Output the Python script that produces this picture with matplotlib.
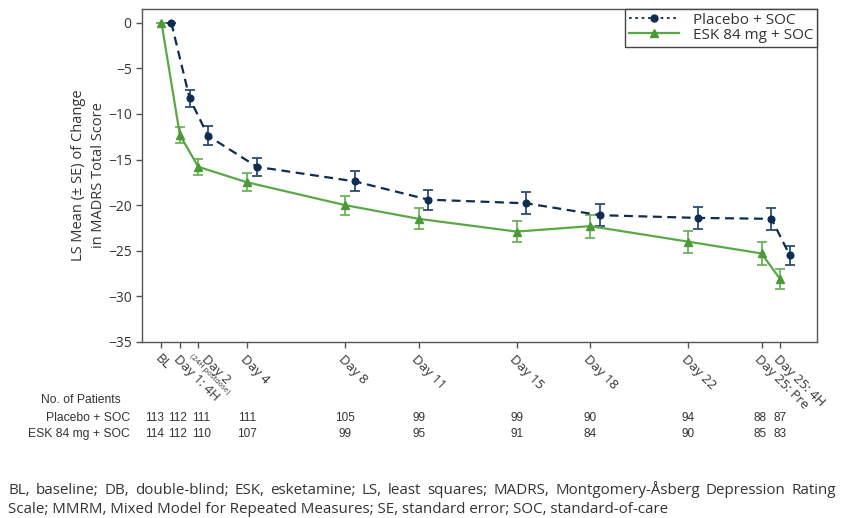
import matplotlib
matplotlib.use("Agg")
import matplotlib.pyplot as plt
import matplotlib.transforms as mtransforms
from matplotlib.lines import Line2D
import numpy as np

# ---------------- data ----------------
tick_labels = ["BL", "Day 1: 4H", "Day 2", "Day 4", "Day 8", "Day 11", "Day 15",
               "Day 18", "Day 22", "Day 25: Pre", "Day 25: 4H"]
study_day = [0.5, 1.25, 2, 4, 8, 11, 15, 18, 22, 25, 25.75]

placebo_mean = [0.0, -8.3, -12.4, -15.8, -17.4, -19.4, -19.8, -21.1, -21.4, -21.5, -25.5]
placebo_se = [0.0, 0.9, 1.05, 1.0, 1.1, 1.1, 1.2, 1.2, 1.2, 1.2, 1.05]
esk_mean = [0.0, -12.3, -15.8, -17.5, -20.0, -21.5, -22.9, -22.3, -24.0, -25.3, -28.1]
esk_se = [0.0, 0.9, 0.9, 1.0, 1.05, 1.15, 1.15, 1.25, 1.2, 1.25, 1.1]

placebo_n = [113, 112, 111, 111, 105, 99, 99, 90, 94, 88, 87]
esk_n = [114, 112, 110, 107, 99, 95, 91, 84, 90, 85, 83]

series_names = ["Placebo + SOC", "ESK 84 mg + SOC"]
footnote1 = ("BL, baseline; DB, double-blind; ESK, esketamine; LS, least squares; MADRS, "
             "Montgomery-\u00c5sberg Depression Rating")
footnote2 = ("Scale; MMRM, Mixed Model for Repeated Measures; SE, standard error; "
             "SOC, standard-of-care")

# ---------------- style ----------------
FONT = ["Open Sans", "DejaVu Sans"]
NUMFONT = ["Liberation Sans", "DejaVu Sans"]
plt.rcParams["font.family"] = FONT
navy = "#0e2d50"
navy_err = "#2c4d74"
green = "#5aa845"
green_mk = "#4b9a38"
green_err = "#6db35a"
spine_c = "#555555"
txt_c = "#333333"

fig = plt.figure(figsize=(8.46, 5.18), dpi=100)
ax = fig.add_axes([0.168, 0.3398, 0.798, 0.6428])

placebo_offset = 0.4
xp = np.array(study_day) + placebo_offset
xe = np.array(study_day)

ax.errorbar(xp, placebo_mean, yerr=placebo_se, fmt="none", ecolor=navy_err,
            elinewidth=1.3, capsize=3.6, capthick=1.3, zorder=2)
ax.plot(xp, placebo_mean, color=navy, linestyle=(0, (4, 2.5)), linewidth=1.6,
        marker="o", markersize=4.8, markerfacecolor=navy, markeredgecolor=navy, zorder=3)

ax.errorbar(xe, esk_mean, yerr=esk_se, fmt="none", ecolor=green_err,
            elinewidth=1.3, capsize=3.6, capthick=1.3, zorder=2)
ax.plot(xe, esk_mean, color=green, linestyle="-", linewidth=1.6,
        marker="^", markersize=5.5, markerfacecolor=green_mk, markeredgecolor=green_mk, zorder=3)

ax.set_xlim(-0.29, 27.27)
ax.set_ylim(-35, 1.5)
yt = np.arange(0, -36, -5)
ax.set_yticks(yt)
ax.set_yticklabels([f"\u2212{abs(v)}" if v < 0 else f"{v}" for v in yt],
                   fontsize=10, color=txt_c)

shown_labels = [("" if lab == "Day 2" else lab) for lab in tick_labels]
ax.set_xticks(study_day)
ax.set_xticklabels(shown_labels, rotation=-45, ha="left", va="top",
                   rotation_mode="anchor", fontsize=9.5, color=txt_c)
shift = mtransforms.ScaledTranslation(-4 / 72, 0, fig.dpi_scale_trans)
for lab in ax.get_xticklabels():
    lab.set_transform(lab.get_transform() + shift)

# Day 2 label with small annotation
i2 = tick_labels.index("Day 2")
bt = mtransforms.blended_transform_factory(ax.transData, ax.transAxes)
ax.text(study_day[i2], 0, "Day 2", rotation=-45, ha="left", va="top", rotation_mode="anchor",
        fontsize=9.5, color=txt_c, clip_on=False,
        transform=bt + mtransforms.ScaledTranslation(7 / 72, -7.5 / 72, fig.dpi_scale_trans))
ax.text(study_day[i2], 0, "(24H postdose)", rotation=-45, ha="left", va="top", rotation_mode="anchor",
        fontsize=5.5, color=txt_c, clip_on=False,
        transform=bt + mtransforms.ScaledTranslation(-4 / 72, -8 / 72, fig.dpi_scale_trans))

for s in ax.spines.values():
    s.set_color(spine_c)
    s.set_linewidth(1.0)
ax.tick_params(axis="both", direction="out", length=4, width=1.0, color=spine_c)
ax.tick_params(top=False, right=False)

ax.set_ylabel("LS Mean (\u00b1 SE) of Change\nin MADRS Total Score", fontsize=10.5,
              color=txt_c, linespacing=1.45)
ax.yaxis.set_label_coords(-0.054, 0.5)

handles = [
    Line2D([], [], color=navy, linestyle=(0, (1.5, 2)), linewidth=1.3, marker="o",
           markersize=5, markerfacecolor=navy, markeredgecolor=navy),
    Line2D([], [], color=green, linestyle="-", linewidth=1.6, marker="^",
           markersize=6, markerfacecolor=green_mk, markeredgecolor=green_mk),
]
leg = ax.legend(handles, series_names, loc="upper right", borderaxespad=0,
                fancybox=False, edgecolor="#444444", fontsize=11, handlelength=3.3,
                borderpad=0.25, labelspacing=0.0, handletextpad=0.9, framealpha=1)
leg.get_frame().set_linewidth(1.0)
for t in leg.get_texts():
    t.set_color(txt_c)

# ---------------- patient table ----------------
tb = mtransforms.blended_transform_factory(ax.transData, fig.transFigure)
fig.text(41 / 846, 1 - 400 / 518, "No. of Patients", fontsize=8.7, family=NUMFONT,
         color=txt_c, ha="left", va="center")
row_y = [1 - 418 / 518, 1 - 434 / 518]
nudge_px = [-7, -2, 3, 0, 0, 0, 0, 0, 0, -2, 0]
for name, ns, yy in zip(series_names, [placebo_n, esk_n], row_y):
    fig.text(130 / 846, yy, name, fontsize=8.7, family=NUMFONT, color=txt_c,
             ha="right", va="center")
    for xv, n, dpx in zip(study_day, ns, nudge_px):
        fig.text(xv, yy, str(n), fontsize=8.5, family=NUMFONT, color=txt_c,
                 ha="center", va="center",
                 transform=tb + mtransforms.ScaledTranslation(dpx / 100, 0, fig.dpi_scale_trans))

# ---------------- footnote (justified first line) ----------------
fig.canvas.draw()
renderer = fig.canvas.get_renderer()
left_px, right_px = 8, 836
probe = fig.text(0, 0, footnote2, fontsize=10)
w2 = probe.get_window_extent(renderer).width
probe.remove()
fs_foot = round(10 * (670 - left_px) / w2, 2)
words = footnote1.split(" ")
tmp = [fig.text(0, 0, w, fontsize=fs_foot) for w in words]
widths = [t.get_window_extent(renderer).width for t in tmp]
for t in tmp:
    t.remove()
gap = (right_px - left_px - sum(widths)) / (len(words) - 1)
xcur = left_px
y1 = 1 - 494 / 518
for w, wd in zip(words, widths):
    fig.text(xcur / 846, y1, w, fontsize=fs_foot, color=txt_c, ha="left", va="baseline")
    xcur += wd + gap
fig.text(left_px / 846, 1 - 513 / 518, footnote2, fontsize=fs_foot,
         color=txt_c, ha="left", va="baseline")

fig.savefig("out.png", dpi=100)
